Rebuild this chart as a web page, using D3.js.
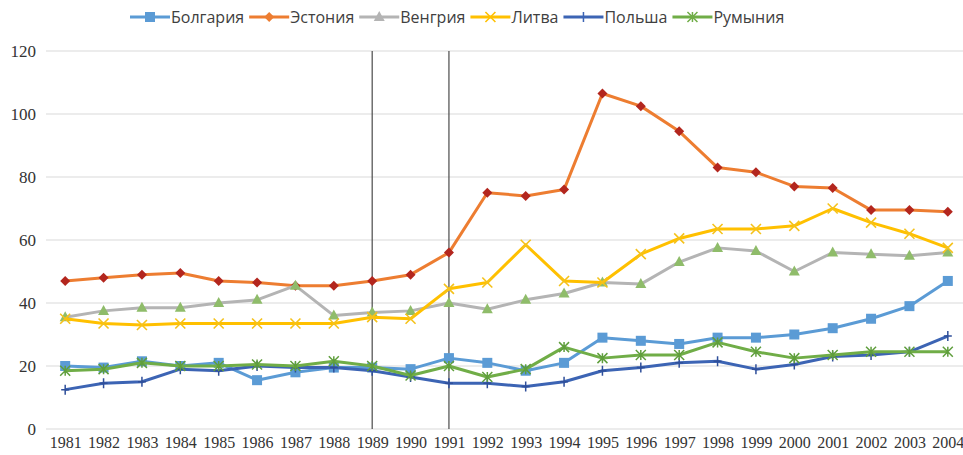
<!doctype html>
<html lang="ru">
<head>
<meta charset="utf-8">
<title>Chart</title>
<style>
  body { margin: 0; background: #fff; }
  .grid line { stroke: #d9d9d9; stroke-width: 1; }
  .legend text { font-family: "Open Sans", "Liberation Sans", sans-serif; font-size: 16px; fill: #404040; }
  .axis text { font-family: 'Liberation Serif', 'DejaVu Serif', serif; fill: #333; }
</style>
<script src="https://d3js.org/d3.v7.min.js"></script>
</head>
<body>
<svg width="963" height="455"></svg>
<script>
var years = d3.range(1981, 2005);
var bulgaria  = [20, 19.5, 21.5, 20, 21, 15.5, 18, 19.5, 19.5, 19, 22.5, 21, 18.5, 21, 29, 28, 27, 29, 29, 30, 32, 35, 39, 47];
var estonia   = [47, 48, 49, 49.5, 47, 46.5, 45.5, 45.5, 47, 49, 56, 75, 74, 76, 106.5, 102.5, 94.5, 83, 81.5, 77, 76.5, 69.5, 69.5, 69];
var hungary   = [35.5, 37.5, 38.5, 38.5, 40, 41, 45.5, 36, 37, 37.5, 40, 38, 41, 43, 46.5, 46, 53, 57.5, 56.5, 50, 56, 55.5, 55, 56];
var lithuania = [35, 33.5, 33, 33.5, 33.5, 33.5, 33.5, 33.5, 35.5, 35, 44.5, 46.5, 58.5, 47, 46.5, 55.5, 60.5, 63.5, 63.5, 64.5, 70, 65.5, 62, 57.5];
var poland    = [12.5, 14.5, 15, 19, 18.5, 20, 19.5, 19.5, 18.5, 16.5, 14.5, 14.5, 13.5, 15, 18.5, 19.5, 21, 21.5, 19, 20.5, 23, 23.5, 24.5, 29.5];
var romania   = [18.5, 19, 21, 20, 20, 20.5, 20, 21.5, 20, 17, 20, 16.5, 19, 26, 22.5, 23.5, 23.5, 27.5, 24.5, 22.5, 23.5, 24.5, 24.5, 24.5];
var yTicks = [0, 20, 40, 60, 80, 100, 120];
var markYears = [1989, 1991];

var series = [
  {name: "Болгария", values: bulgaria,  color: "#5b9bd5", mark: "#5b9bd5", shape: "square"},
  {name: "Эстония",  values: estonia,   color: "#ed7d31", mark: "#b3261e", shape: "diamond"},
  {name: "Венгрия",  values: hungary,   color: "#b4b4b4", mark: "#8fbc6a", shape: "triangle"},
  {name: "Литва",    values: lithuania, color: "#ffc000", mark: "#f5c21b", shape: "x"},
  {name: "Польша",   values: poland,    color: "#3c64b4", mark: "#2f4f9a", shape: "plus"},
  {name: "Румыния",  values: romania,   color: "#70ad47", mark: "#5f9e3c", shape: "star"}
];

var svg = d3.select("svg");
var plotLeft = 46, plotRight = 967, plotTop = 51, plotBottom = 429;

var x = d3.scalePoint().domain(years).range([plotLeft, plotRight]).padding(0.5);
var y = d3.scaleLinear().domain([0, 120]).range([plotBottom, plotTop]);

// horizontal grid
svg.append("g").attr("class", "grid")
  .selectAll("line").data(yTicks).enter().append("line")
  .attr("x1", plotLeft).attr("x2", 963)
  .attr("y1", function(d) { return y(d); })
  .attr("y2", function(d) { return y(d); });

// y axis labels
var yAxis = svg.append("g")
  .attr("class", "axis")
  .attr("transform", "translate(36,0)")
  .call(d3.axisLeft(y).tickValues(yTicks).tickSize(0).tickPadding(0))
  .attr("font-family", null).attr("font-size", 17);
yAxis.select(".domain").remove();

// x axis labels
var xAxis = svg.append("g")
  .attr("class", "axis")
  .attr("transform", "translate(0," + plotBottom + ")")
  .call(d3.axisBottom(x).tickSize(0).tickPadding(8))
  .attr("font-family", null).attr("font-size", 16);
xAxis.select(".domain").remove();

// vertical marker lines
svg.append("g").selectAll("line").data(markYears).enter().append("line")
  .attr("x1", function(d) { return x(d); })
  .attr("x2", function(d) { return x(d); })
  .attr("y1", plotTop).attr("y2", plotBottom)
  .attr("stroke", "#4a4a4a").attr("stroke-width", 1.2);

var line = d3.line()
  .x(function(d, i) { return x(years[i]); })
  .y(function(d) { return y(d); });

function drawMarker(g, shape, color, cx, cy) {
  if (shape === "square") {
    g.append("rect").attr("x", cx - 5).attr("y", cy - 5).attr("width", 10).attr("height", 10).attr("fill", color);
  } else if (shape === "diamond") {
    g.append("path").attr("d", "M" + cx + "," + (cy - 5) + "L" + (cx + 5) + "," + cy + "L" + cx + "," + (cy + 5) + "L" + (cx - 5) + "," + cy + "Z").attr("fill", color);
  } else if (shape === "triangle") {
    g.append("path").attr("d", "M" + cx + "," + (cy - 6) + "L" + (cx + 5.5) + "," + (cy + 4) + "L" + (cx - 5.5) + "," + (cy + 4) + "Z").attr("fill", color);
  } else if (shape === "x") {
    g.append("path").attr("d", "M" + (cx - 5) + "," + (cy - 5) + "L" + (cx + 5) + "," + (cy + 5) + "M" + (cx + 5) + "," + (cy - 5) + "L" + (cx - 5) + "," + (cy + 5))
      .attr("stroke", color).attr("stroke-width", 1.6);
  } else if (shape === "plus") {
    g.append("path").attr("d", "M" + cx + "," + (cy - 5) + "L" + cx + "," + (cy + 5) + "M" + (cx - 4) + "," + cy + "L" + (cx + 4) + "," + cy)
      .attr("stroke", color).attr("stroke-width", 1.5);
  } else if (shape === "star") {
    g.append("path").attr("d", "M" + (cx - 5) + "," + (cy - 5) + "L" + (cx + 5) + "," + (cy + 5) + "M" + (cx + 5) + "," + (cy - 5) + "L" + (cx - 5) + "," + (cy + 5) + "M" + cx + "," + (cy - 5) + "L" + cx + "," + (cy + 5))
      .attr("stroke", color).attr("stroke-width", 1.5);
  }
}

series.forEach(function(s) {
  var g = svg.append("g");
  g.append("path").datum(s.values)
    .attr("d", line)
    .attr("fill", "none")
    .attr("stroke", s.color)
    .attr("stroke-width", 3)
    .attr("stroke-linejoin", "round");
  s.values.forEach(function(v, i) {
    drawMarker(g, s.shape, s.mark, x(years[i]), y(v));
  });
});

// legend
var legend = svg.append("g").attr("class", "legend");
var lx = 130;
series.forEach(function(s) {
  var g = legend.append("g");
  g.append("line").attr("x1", lx).attr("x2", lx + 40).attr("y1", 17).attr("y2", 17)
    .attr("stroke", s.color).attr("stroke-width", 3);
  drawMarker(g, s.shape, s.color, lx + 20, 17);
  var t = g.append("text").attr("x", lx + 41).attr("y", 23).text(s.name);
  lx += 41 + t.node().getComputedTextLength() + 5;
});
</script>
</body>
</html>
